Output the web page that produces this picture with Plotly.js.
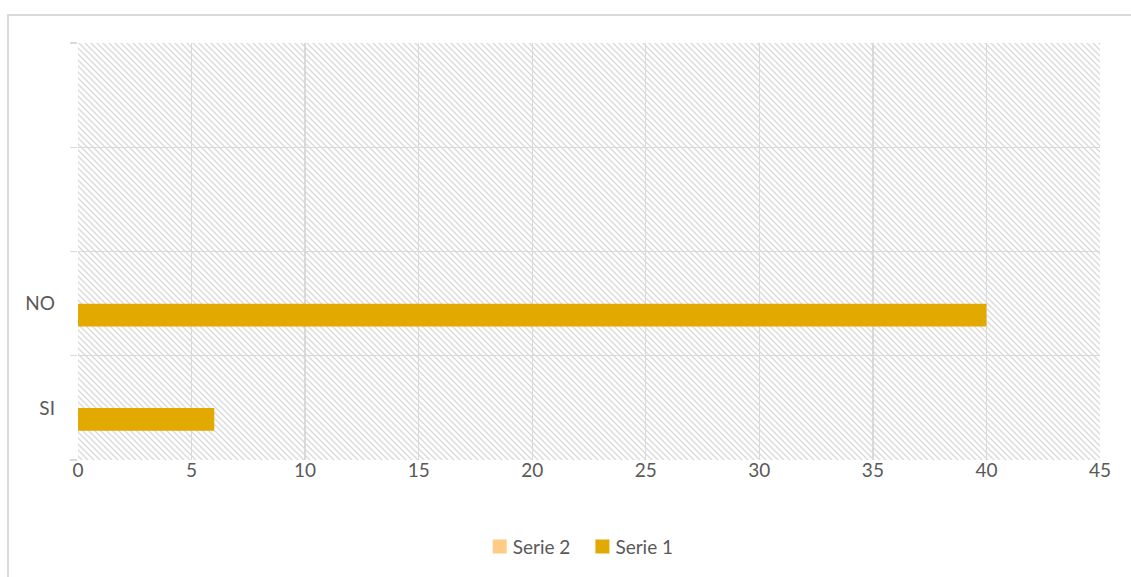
<!DOCTYPE html>
<html>
<head>
<meta charset="utf-8">
<script src="https://cdn.plot.ly/plotly-3.0.1.min.js"></script>
<style>
  html, body { margin:0; padding:0; width:1131px; height:577px; overflow:hidden; background:#ffffff; }
  #wrap { position:relative; width:1131px; height:577px; }
  #frame { position:absolute; left:7px; top:14px; width:1160px; height:620px; border:2px solid #d9d9d9; box-sizing:border-box; }
  #hatch { position:absolute; left:0; top:0; width:1131px; height:577px; }
  #chart { position:absolute; left:0; top:0; width:1131px; height:577px; }
</style>
</head>
<body>
<div id="wrap">
  <div id="frame"></div>
  <svg id="hatch" xmlns="http://www.w3.org/2000/svg"></svg>
  <div id="chart"></div>
</div>
<script>
// Data
const categories = ['SI', 'NO'];
const slotCount = 4;              // two empty category slots above
const serie1 = [6, 40];
const serie2 = [null, null];
const xTicks = [0, 5, 10, 15, 20, 25, 30, 35, 40, 45];

const catIdx = categories.map((c, i) => i);
const boundaries = [];
for (let i = 0; i <= slotCount; i++) boundaries.push(i - 0.5);

const traces = [
  { type:'bar', orientation:'h', name:'Serie 1', x:serie1, y:catIdx,
    marker:{ color:'#E2AA00' }, hoverinfo:'x+name' },
  { type:'bar', orientation:'h', name:'Serie 2', x:serie2, y:catIdx,
    marker:{ color:'#FFCC85' }, hoverinfo:'x+name' }
];

const gridColor = '#d9d9d9';
const txt = '#595959';
const layout = {
  width:1131, height:577,
  margin:{ l:78, r:31, t:43, b:116 },
  paper_bgcolor:'rgba(0,0,0,0)',
  plot_bgcolor:'rgba(0,0,0,0)',
  font:{ family:'Lato, "Open Sans", sans-serif', size:19, color:txt },
  barmode:'group', bargap:0.56, bargroupgap:0,
  showlegend:true,
  legend:{ orientation:'h', x:0.487, xanchor:'center', y:-0.205, yanchor:'middle',
           traceorder:'reversed', font:{ size:19, color:txt } },
  xaxis:{ range:[0,45], tickvals:xTicks, showgrid:true, gridcolor:gridColor, gridwidth:1.3,
          zeroline:false, showline:false, ticks:'', ticklabelstandoff:-3,
          tickfont:{ size:19, color:txt } },
  yaxis:{ range:[-0.5, slotCount - 0.5], tickvals:catIdx, ticktext:categories,
          showgrid:false, zeroline:false, showline:false, ticks:'',
          ticklabelstandoff:22, tickfont:{ size:19, color:txt },
          minor:{ tickmode:'array', tickvals:boundaries, ticks:'outside', ticklen:7,
                  tickcolor:gridColor, tickwidth:1.3, showgrid:true, gridcolor:gridColor, gridwidth:1.3 } }
};

Plotly.newPlot('chart', traces, layout, { displayModeBar:false, staticPlot:true }).then(gd => {
  const s = gd._fullLayout._size;
  const svg = document.getElementById('hatch');
  const ns = 'http://www.w3.org/2000/svg';
  svg.innerHTML =
    '<defs><pattern id="hp" patternUnits="userSpaceOnUse" width="6" height="6">' +
    '<path d="M-1,-1 L7,7 M-1,5 L1,7 M5,-1 L7,1" stroke="#dadada" stroke-width="1.4"/>' +
    '</pattern></defs>';
  const r = document.createElementNS(ns, 'rect');
  r.setAttribute('x', s.l); r.setAttribute('y', s.t);
  r.setAttribute('width', s.w); r.setAttribute('height', s.h);
  r.setAttribute('fill', 'url(#hp)');
  svg.appendChild(r);
  // larger legend swatches, closer to the text
  gd.querySelectorAll('.legend .legendpoints .legendundefined, .legend .legendpoints path').forEach(p => {
    p.setAttribute('d', 'M7,7H-7V-7H7Z');
    const t = p.getAttribute('transform') || '';
    const m = t.match(/translate\(([-\d.]+),\s*([-\d.]+)\)/);
    if (m) p.setAttribute('transform', 'translate(' + (parseFloat(m[1]) + 7) + ',' + m[2] + ')');
  });
});
</script>
</body>
</html>
